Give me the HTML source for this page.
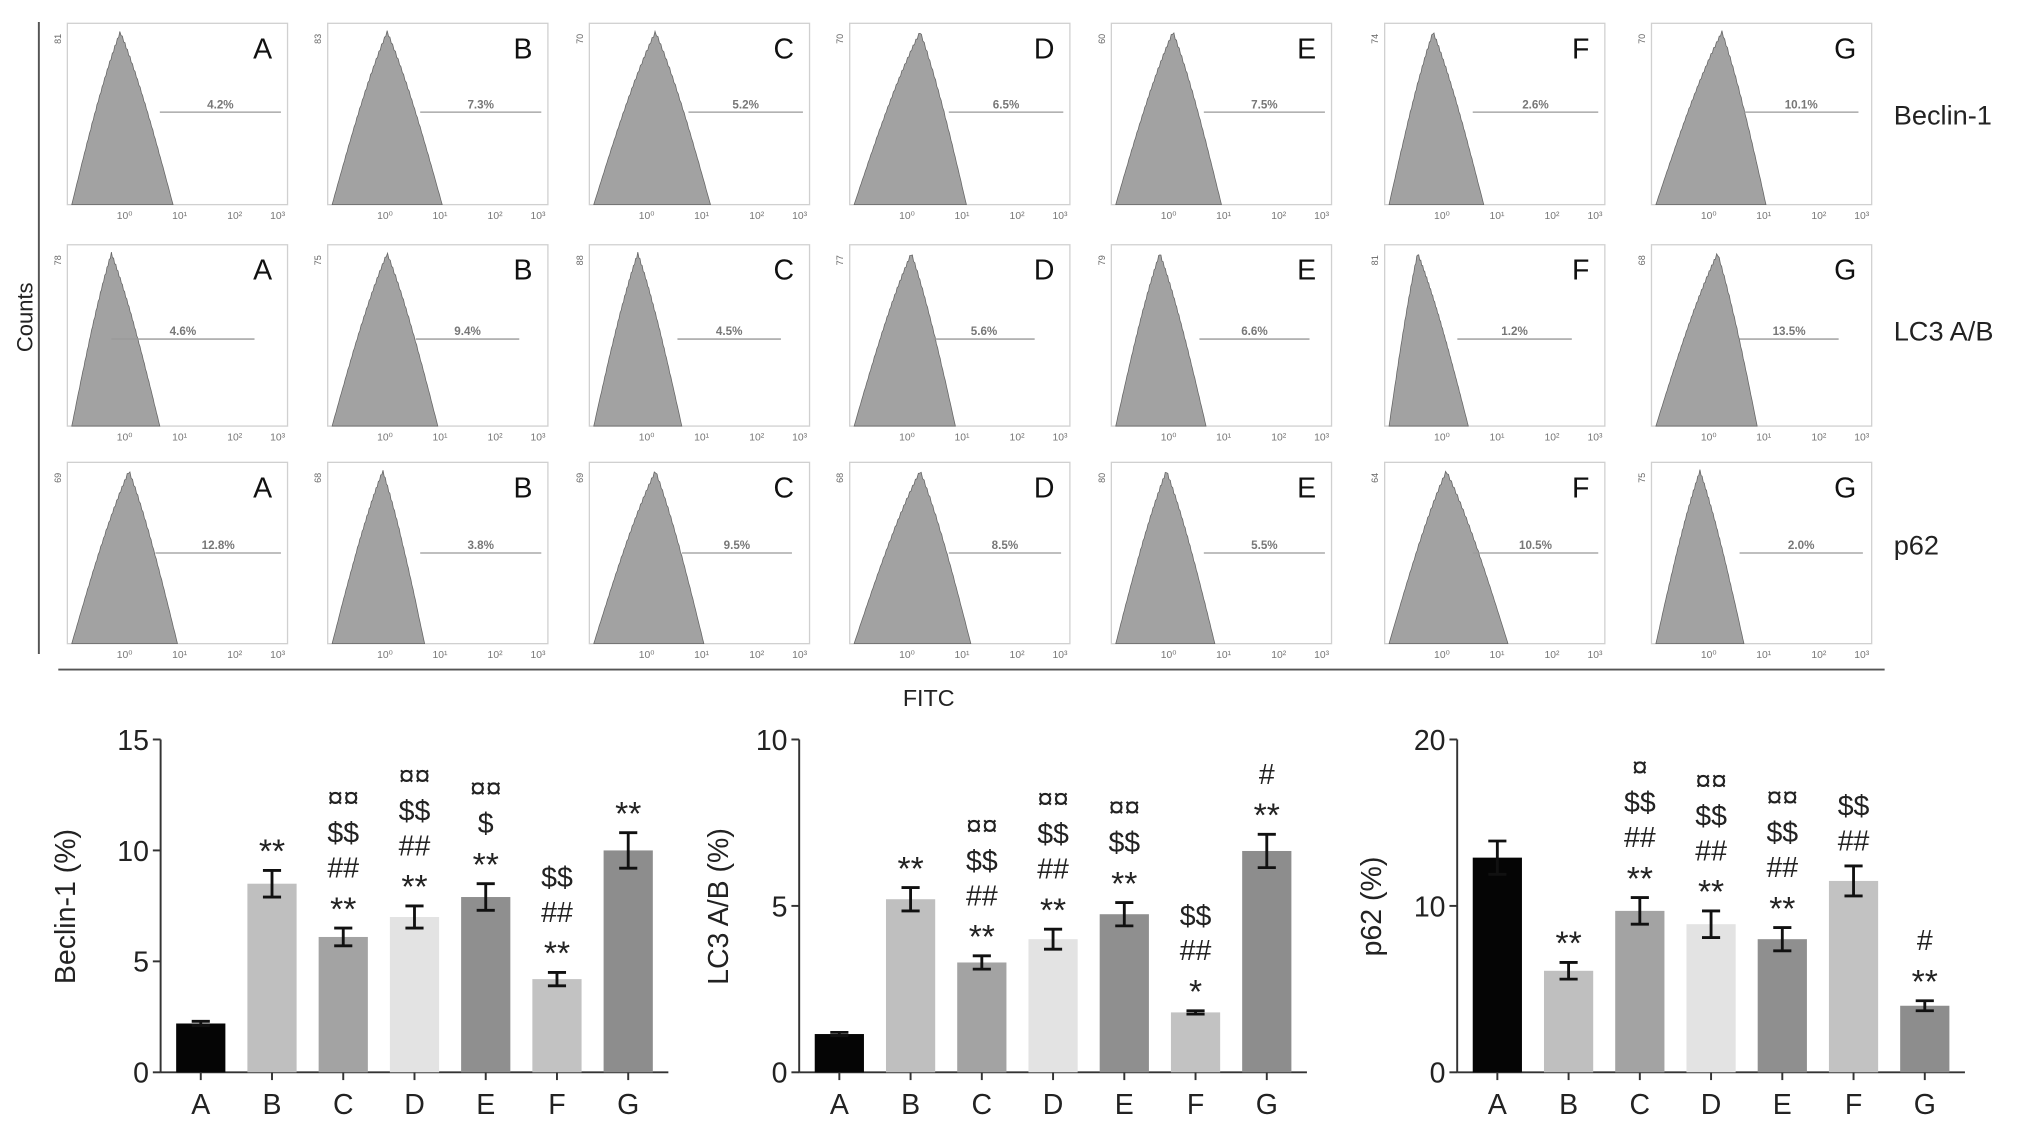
<!DOCTYPE html>
<html><head><meta charset="utf-8"><style>
html,body{margin:0;padding:0;background:#fff;}
svg{display:block;font-family:"Liberation Sans",sans-serif;}
</style></head><body>
<svg id="fig" width="2031" height="1128" viewBox="0 0 1568 871" preserveAspectRatio="none">
<rect x="0" y="0" width="1568" height="871" fill="#fff"/>
<g id="flow"></g>
<g id="bars"></g>
</svg>
<script>
// ---- flow cytometry histogram data ----
const groups = ["A","B","C","D","E","F","G"];
const markers = ["Beclin-1","LC3 A/B","p62"];
const pctBeclin = ["4.2%","7.3%","5.2%","6.5%","7.5%","2.6%","10.1%"];
const pctLC3 = ["4.6%","9.4%","4.5%","5.6%","6.6%","1.2%","13.5%"];
const pctP62 = ["12.8%","3.8%","9.5%","8.5%","5.5%","10.5%","2.0%"];
const ymaxBeclin = ["81","83","70","70","60","74","70"];
const ymaxLC3 = ["78","75","88","77","79","81","68"];
const ymaxP62 = ["69","68","69","68","80","64","75"];
const peakBeclin = [0.24,0.27,0.30,0.32,0.28,0.22,0.32];
const endBeclin = [0.48,0.52,0.55,0.53,0.50,0.45,0.52];
const peakLC3 = [0.20,0.27,0.22,0.28,0.22,0.15,0.30];
const endLC3 = [0.42,0.50,0.42,0.48,0.43,0.38,0.48];
const peakP62 = [0.28,0.25,0.30,0.32,0.25,0.28,0.22];
const endP62 = [0.50,0.44,0.52,0.55,0.47,0.56,0.42];
const gateStart = [[0.42,0.42,0.45,0.45,0.42,0.40,0.42],[0.20,0.40,0.40,0.38,0.40,0.33,0.40],[0.40,0.42,0.42,0.45,0.42,0.40,0.40]];
const gateEnd = [[0.97,0.97,0.97,0.97,0.97,0.97,0.94],[0.85,0.87,0.87,0.84,0.90,0.85,0.85],[0.97,0.97,0.92,0.96,0.97,0.97,0.96]];
const gateY = [0.49,0.52,0.50];

// ---- bar chart data ----
const barCats = ["A","B","C","D","E","F","G"];
const barColors = ["#050505","#bfbfbf","#a3a3a3","#e3e3e3","#8f8f8f","#c2c2c2","#8d8d8d"];
const beclinVals = [2.2,8.5,6.1,7.0,7.9,4.2,10.0];
const beclinErr = [0.1,0.6,0.4,0.5,0.6,0.3,0.8];
const beclinAnn = [[],["**"],["**","##","$$","¤¤"],["**","##","$$","¤¤"],["**","$","¤¤"],["**","##","$$"],["**"]];
const lc3Vals = [1.15,5.2,3.3,4.0,4.75,1.8,6.65];
const lc3Err = [0.05,0.35,0.2,0.3,0.35,0.05,0.5];
const lc3Ann = [[],["**"],["**","##","$$","¤¤"],["**","##","$$","¤¤"],["**","$$","¤¤"],["*","##","$$"],["**","#"]];
const p62Vals = [12.9,6.1,9.7,8.9,8.0,11.5,4.0];
const p62Err = [1.0,0.5,0.8,0.8,0.7,0.9,0.3];
const p62Ann = [[],["**"],["**","##","$$","¤"],["**","##","$$","¤¤"],["**","##","$$","¤¤"],["##","$$"],["**","#"]];
const beclinTicks = [0,5,10,15];
const lc3Ticks = [0,5,10];
const p62Ticks = [0,10,20];

const NS = "http://www.w3.org/2000/svg";
function mk(tag, attrs, parent){
  const e = document.createElementNS(NS, tag);
  for (const k in attrs) e.setAttribute(k, attrs[k]);
  parent.appendChild(e);
  return e;
}
const flow = document.getElementById('flow');
const bars = document.getElementById('bars');

let e;
e = mk('line',{x1:30,y1:17,x2:30,y2:505,stroke:'#555','stroke-width':1.5},flow);


e = mk('text',{x:0,y:0,'font-size':17,fill:'#222','text-anchor':'middle',transform:'translate(25,245) rotate(-90)'},flow);
e.textContent='Counts';


e = mk('line',{x1:45,y1:517,x2:1455,y2:517,stroke:'#555','stroke-width':1.5},flow);


e = mk('text',{x:717,y:545,'font-size':18,fill:'#222','text-anchor':'middle'},flow);
e.textContent='FITC';



const colX = [52,253,455,656,858,1069,1275];
const rowY = [18,189,357];
const pw = 170, ph = 140;
const pcts = [pctBeclin,pctLC3,pctP62];
const ymx = [ymaxBeclin,ymaxLC3,ymaxP62];
const peaks = [peakBeclin,peakLC3,peakP62];
const ends = [endBeclin,endLC3,endP62];
const markerY = [89,256,421];
markers.forEach((m,r)=>{
  const t = mk('text',{x:1462,y:markerY[r]+7,'font-size':21,fill:'#222'},flow);
  t.textContent = m;
  
  
});
for (let r=0;r<3;r++){
  for (let c=0;c<7;c++){
    const x0 = colX[c], y0 = rowY[r];
    const g = mk('g',{},flow);
    
    
    const box = mk('rect',{x:x0,y:y0,width:pw,height:ph,fill:'#fff',stroke:'#d0d0d0','stroke-width':1},g);
    
    
    const st = 0.02, pk = peaks[r][c], en = ends[r][c];
    let d = `M${x0+st*pw},${y0+ph}`;
    const N = 80;
    for (let i=0;i<=N;i++){
      const f = st + (en-st)*i/N;
      let h;
      if (f<=pk) h = (f-st)/(pk-st); else h = (en-f)/(en-pk);
      h = Math.max(0,Math.min(1,h));
      h = Math.sin(h*Math.PI/2)*0.25 + h*0.75;
      const jag = (i%2===0?0:0.015)*h;
      const yy = y0+ph - h*(ph*0.96) + jag*ph;
      d += ` L${(x0+f*pw).toFixed(1)},${yy.toFixed(1)}`;
    }
    d += ` L${x0+en*pw},${y0+ph} Z`;
    const hp = mk('path',{d:d,fill:'#a2a2a2',stroke:'#666','stroke-width':0.6},g);
    
    
    const gy = y0 + ph*gateY[r];
    const gl = mk('line',{x1:x0+gateStart[r][c]*pw,y1:gy,x2:x0+gateEnd[r][c]*pw,y2:gy,stroke:'#999','stroke-width':1},g);
    
    
    const pt = mk('text',{x:x0+(gateStart[r][c]+gateEnd[r][c])/2*pw,y:gy-3,'font-size':9,'font-weight':'bold',fill:'#777','text-anchor':'middle'},g);
    pt.textContent = pcts[r][c];
    
    
    const lt = mk('text',{x:x0+0.93*pw,y:y0+27,'font-size':22,fill:'#111','text-anchor':'end'},g);
    lt.textContent = groups[c];
    
    
    const ym = mk('text',{x:0,y:0,'font-size':7,fill:'#666','text-anchor':'middle',transform:`translate(${x0-5},${y0+12}) rotate(-90)`},g);
    ym.textContent = ymx[r][c];
    
    
    ['10⁰','10¹','10²','10³'].forEach((s,k)=>{
      const fx = [0.26,0.51,0.76,0.955][k];
      const tx = mk('text',{x:x0+fx*pw,y:y0+ph+11,'font-size':8,fill:'#777','text-anchor':'middle'},g);
      tx.textContent = s;
      
      
    });
  }
}

function barChart(opt){
  const g = mk('g',{},bars);
  
  
  const y0 = 828, yTop = 571;
  const yS = v => y0 - (v/opt.max)*(y0-yTop);
  const xS = i => opt.ax + 31 + i*55;
  let a = mk('line',{x1:opt.ax,y1:yTop,x2:opt.ax,y2:y0,stroke:'#333','stroke-width':1.5},g);
  
  
  a = mk('line',{x1:opt.ax,y1:y0,x2:opt.ax+392,y2:y0,stroke:'#333','stroke-width':1.5},g);
  
  
  opt.ticks.forEach(t=>{
    const tl = mk('line',{x1:opt.ax-6,y1:yS(t),x2:opt.ax,y2:yS(t),stroke:'#333','stroke-width':1.5},g);
    
    
    const tt = mk('text',{x:opt.ax-9,y:yS(t)+8,'font-size':22,fill:'#222','text-anchor':'end'},g);
    tt.textContent = t;
    
    
  });
  const yt = mk('text',{x:0,y:0,'font-size':22,fill:'#222','text-anchor':'middle',transform:`translate(${opt.tx},700) rotate(-90)`},g);
  yt.textContent = opt.title;
  
  
  barCats.forEach((cat,i)=>{
    const cx = xS(i), v = opt.vals[i], er = opt.err[i];
    const b = mk('rect',{x:cx-19,y:yS(v),width:38,height:y0-yS(v),fill:barColors[i]},g);
    
    
    const eg = mk('path',{d:`M${cx-7},${yS(v+er)}H${cx+7}M${cx},${yS(v+er)}V${yS(v-er)}M${cx-7},${yS(v-er)}H${cx+7}`,stroke:'#111','stroke-width':2.2,fill:'none'},g);
    
    
    const tk = mk('line',{x1:cx,y1:y0,x2:cx,y2:y0+6,stroke:'#333','stroke-width':1.5},g);
    
    
    const xl = mk('text',{x:cx,y:y0+32,'font-size':22,fill:'#222','text-anchor':'middle'},g);
    xl.textContent = cat;
    
    
    const top = yS(v+er);
    opt.ann[i].forEach((s,k)=>{
      const cy = top - 20 - 27*k;
      const isStar = s.indexOf('*')>=0;
      const at = mk('text',{x:cx,y:cy + (isStar?14:8),'font-size':isStar?26:22,fill:'#222','text-anchor':'middle'},g);
      at.textContent = s;
      
      
    });
  });
}
barChart({name:'beclin-chart',ax:124,max:15,ticks:beclinTicks,vals:beclinVals,err:beclinErr,ann:beclinAnn,title:'Beclin-1 (%)',tx:58});
barChart({name:'lc3-chart',ax:617,max:10,ticks:lc3Ticks,vals:lc3Vals,err:lc3Err,ann:lc3Ann,title:'LC3 A/B (%)',tx:562});
barChart({name:'p62-chart',ax:1125,max:20,ticks:p62Ticks,vals:p62Vals,err:p62Err,ann:p62Ann,title:'p62 (%)',tx:1066});
</script>
</body></html>
